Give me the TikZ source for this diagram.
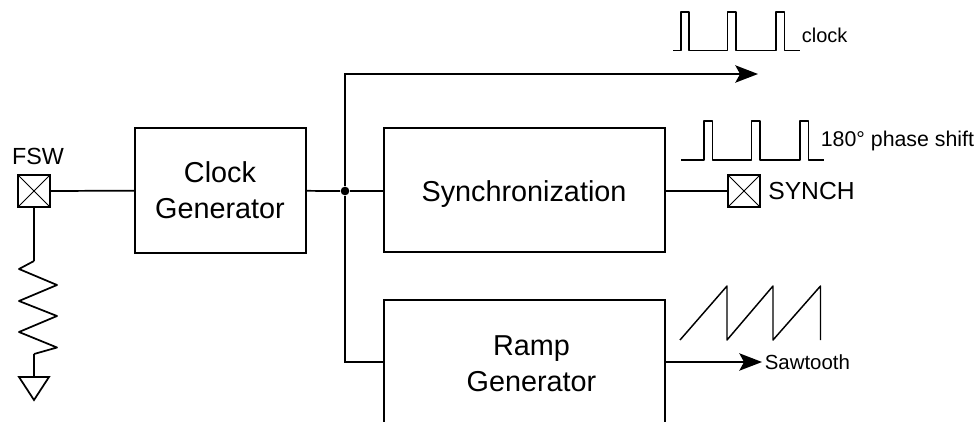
\documentclass[tikz,border=0pt]{standalone}
\usepackage{fontspec}
\setmainfont{Liberation Sans}
\usetikzlibrary{arrows.meta}

\tikzset{
  block/.style={draw, minimum width=#1, inner sep=0pt, outer sep=0pt},
  blocktext/.style={inner sep=0pt, align=center, font=\fontsize{21.6}{27}\selectfont},
  pad/.style={draw, minimum size=24pt, inner sep=0pt, outer sep=0pt,
    path picture={\draw [line width=.75pt] (path picture bounding box.north west) -- (path picture bounding box.south east)
      (path picture bounding box.north east) -- (path picture bounding box.south west);}},
  tip/.style={-{Stealth[length=17pt,width=13pt,inset=3.5pt]}},
  wave/.style={line width=1.1pt, line join=round}
}

\begin{document}
\begin{tikzpicture}[x=.75pt, y=-.75pt, line width=1.3pt]

    \useasboundingbox (0, 0) rectangle (974, 421);

    \node [block=128.25pt, minimum height=93.75pt] (c) at (220.5, 190.5) {};
    \node [block=210.75pt, minimum height=93pt] (s) at (524.5, 190) {};
    \node [block=210.75pt, minimum height=95.25pt] (r) at (524.5, 363.5) {};
    \node [blocktext] (ct) at (220, 190) {Clock\\Generator};
    \node [blocktext, anchor=base] (st) at (524, 201.7) {Synchronization};
    \node [blocktext] (rt) at (531.5, 364) {Ramp\\Generator};
    \node [pad] (f) at (34, 191) {};
    \node [pad] (p) at (744, 191) {};
    \node [circle, fill, inner sep=0pt, minimum size=6.5pt] (j) at (345, 191) {};
    \node [font=\fontsize{17.5}{20}\selectfont] (fl) at (38, 156) {FSW};
    \node [font=\fontsize{18.5}{20}\selectfont, anchor=west] (pl) at (763, 191) {SYNCH};
    \node [font=\fontsize{15}{18}\selectfont, anchor=west, inner sep=0pt] (cl) at (801, 35) {clock};
    \node [font=\fontsize{16}{18}\selectfont, anchor=west, inner sep=0pt] (sl) at (820, 141) {180° phase shift};
    \node [font=\fontsize{15.3}{18}\selectfont, anchor=west, inner sep=0pt] (rl) at (764, 362) {Sawtooth};

    \coordinate (t) at (345, 74);
    \coordinate (e) at (758, 74);
    \coordinate (h) at (345, 362);
    \coordinate (a) at (34, 261);
    \coordinate (b) at (34, 354);
    \coordinate (g) at (34, 377);

    \draw (f) to (c);
    \draw (c) to (j);
    \draw (j) to (s.west |- j);
    \draw (p.west -| s.east) to (p);
    \draw [tip] (j) -- (t) -- (e);
    \draw (j) -- (h) -- (r.west |- h);
    \draw [tip] (r.east |- h) to (762, 362);
    \draw (f) to (a);
    \draw [line join=round] (a) -- (19, 269) -- (57, 285) -- (19, 301) -- (57, 316) -- (19, 332) -- (57, 347.5) -- (b);
    \draw (b) to (g);
    \draw [line join=miter] (19, 377) -- (49, 377) -- (34, 400) -- cycle;

    \draw [wave] (673, 50.5) -- (681, 50.5) -- (681, 12) -- (689, 12) -- (689, 50.5) -- (727.5, 50.5) -- (727.5, 12) -- (736, 12) -- (736, 50.5) -- (776, 50.5) -- (776, 12) -- (784.5, 12) -- (784.5, 50.5) -- (799.5, 50.5);
    \draw [wave] (681, 160) -- (704, 160) -- (704, 121) -- (712.5, 121) -- (712.5, 160) -- (751.5, 160) -- (751.5, 121) -- (760, 121) -- (760, 160) -- (800, 160) -- (800, 121) -- (808.5, 121) -- (808.5, 160) -- (824, 160);
    \draw [wave] (680, 340) -- (727, 286) -- (727, 340) -- (773, 286) -- (773, 340) -- (820.5, 286) -- (820.5, 340);

  \end{tikzpicture}
\end{document}
